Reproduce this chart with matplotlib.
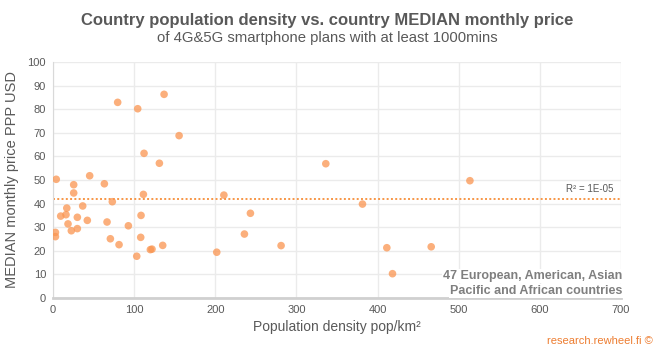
import matplotlib
matplotlib.use("Agg")
import matplotlib.pyplot as plt
import numpy as np

density = [4, 3, 3, 9.5, 17, 16, 18.5, 22.6, 25.5, 25.5, 30, 30, 36.6, 42.3, 45.2,
           63.3, 66.6, 70.7, 73.1, 79.7, 81.4, 92.9, 103.2, 104.4, 108.1, 108.5,
           111.4, 112.2, 120, 122, 131.1, 135.2, 136.9, 155.4, 201.8, 210.6,
           243.3, 235.9, 281.1, 336.2, 381.4, 411.4, 418.4, 513.8, 466.1]
price = [50.3, 27.8, 26, 34.7, 38.1, 35.3, 31.4, 28.5, 48, 44.5, 34.2, 29.4, 39, 32.9, 51.8,
         48.4, 32.2, 25.1, 40.8, 82.9, 22.6, 30.6, 17.7, 80.2, 25.7, 35,
         43.9, 61.3, 20.5, 20.7, 57.1, 22.3, 86.3, 68.8, 19.4, 43.6,
         35.9, 27.1, 22.2, 56.9, 39.8, 21.3, 10.3, 49.7, 21.7]
trend_x = [0, 700]
trend_y = [41.9, 41.9]

xticks = [0, 100, 200, 300, 400, 500, 600, 700]
yticks = [0, 10, 20, 30, 40, 50, 60, 70, 80, 90, 100]

plt.rcParams['font.family'] = ['Liberation Sans', 'DejaVu Sans']
gray = '#595959'

fig = plt.figure(figsize=(6.54, 3.45), dpi=100)
ax = fig.add_axes([53/654, 1-298/345, (621-53)/654, (298-62)/345])

ax.scatter(density, price, s=30, color='#FA9550', alpha=0.75, edgecolors='none', zorder=3)
ax.plot(trend_x, trend_y, linestyle=(0, (1, 1.2)), color='#F79646', linewidth=1.4, zorder=2)

ax.set_xlim(0, 700)
ax.set_ylim(0, 100)
ax.set_xticks(xticks)
ax.set_yticks(yticks)
ax.grid(True, color='#ebebeb', linewidth=1.0, zorder=0)
ax.set_axisbelow(True)
for s in ['top', 'right']:
    ax.spines[s].set_visible(False)
ax.spines['left'].set_color('#d9d9d9')
ax.spines['bottom'].set_color('#d0d0d0')
ax.spines['bottom'].set_linewidth(2)
ax.tick_params(length=0, labelsize=8, labelcolor=gray, pad=5)

ax.set_xlabel('Population density pop/km²', fontsize=10, color=gray, labelpad=4)
ax.set_ylabel('MEDIAN monthly price PPP USD', fontsize=10.5, color=gray, labelpad=6)

ax.text(690, 46.2, 'R² = 1E-05', fontsize=7, color=gray, ha='right', va='center')
box = dict(facecolor='white', edgecolor='none', pad=0.5)
ax.text(701.5, 9.3, '47 European, American, Asian', ha='right', va='center',
        fontsize=9, fontweight='bold', color='#7f7f7f', clip_on=False, bbox=box, zorder=4)
ax.text(701.5, 3.0, 'Pacific and African countries', ha='right', va='center',
        fontsize=9, fontweight='bold', color='#7f7f7f', clip_on=False, bbox=box, zorder=4)

fig.text(0.5, 1-20/345, 'Country population density vs. country MEDIAN monthly price',
         ha='center', va='center', fontsize=12, fontweight='bold', color=gray)
fig.text(0.5, 1-38/345, 'of 4G&5G smartphone plans with at least 1000mins',
         ha='center', va='center', fontsize=10.7, color=gray)
fig.text(0.998, 1-341/345, 'research.rewheel.fi ©', ha='right', va='center',
         fontsize=8, color='#ED7D31')

fig.savefig('out.png', dpi=100)
